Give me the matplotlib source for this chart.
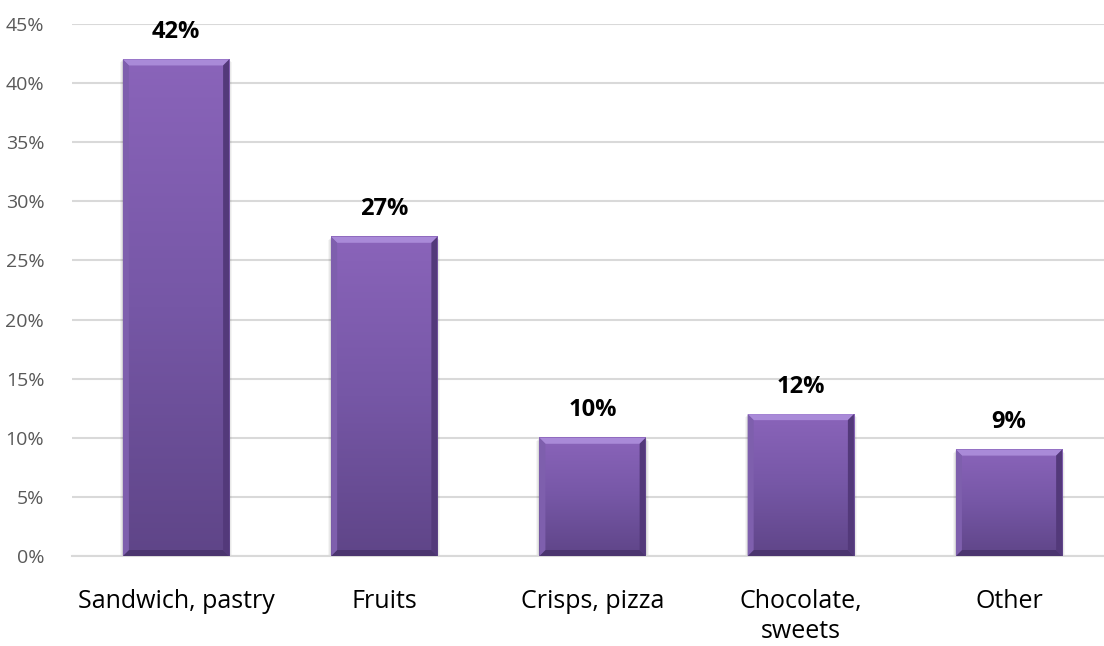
import numpy as np
import matplotlib.pyplot as plt
from matplotlib.patches import Polygon, Rectangle
from matplotlib.colors import LinearSegmentedColormap
from matplotlib.ticker import FuncFormatter, MultipleLocator

plt.rcParams["font.family"] = ["Open Sans", "DejaVu Sans"]

categories = ["Sandwich, pastry", "Fruits", "Crisps, pizza", "Chocolate,\nsweets", "Other"]
shares = [42, 27, 10, 12, 9]

fig = plt.figure(figsize=(11.04, 6.46), dpi=100)
ax = fig.add_axes([72 / 1104, 90 / 646, 1 - 72 / 1104, 532 / 646])

x = np.arange(len(categories))
width = 0.51
ax.set_xlim(-0.4994, 4.456)
ax.set_ylim(0, 45)

# pixel size in data units, for the bevel
px_x = (ax.get_xlim()[1] - ax.get_xlim()[0]) / 1032
px_y = 45 / 532
bx, by = 6 * px_x, 6 * px_y

body = LinearSegmentedColormap.from_list("body", ["#5f4588", "#7657a6", "#8a64ba"])
grad = np.linspace(0, 1, 256).reshape(-1, 1)

for xi, v in zip(x, shares):
    l, r = xi - width / 2, xi + width / 2
    # soft shadow, mostly below and to the sides
    for k, a in [(3, 0.05), (2, 0.07), (1, 0.09)]:
        ax.add_patch(Rectangle((l - k * px_x, -k * px_y), width + 2 * k * px_x, v,
                               color="#404040", alpha=a, lw=0, zorder=2))
    ax.imshow(grad, cmap=body, aspect="auto", origin="lower",
              extent=(l, r, 0, v), zorder=3, interpolation="bilinear")
    # bevel faces
    ax.add_patch(Polygon([(l, v), (r, v), (r - bx, v - by), (l + bx, v - by)],
                         color="#a98ad8", lw=0, zorder=4))
    ax.add_patch(Polygon([(l, 0), (r, 0), (r - bx, by), (l + bx, by)],
                         color="#4b356f", lw=0, zorder=4))
    ax.add_patch(Polygon([(l, 0), (l, v), (l + bx, v - by), (l + bx, by)],
                         color="#7e5fad", lw=0, zorder=4))
    ax.add_patch(Polygon([(r, 0), (r, v), (r - bx, v - by), (r - bx, by)],
                         color="#53397a", lw=0, zorder=4))
    ax.text(xi, v + 1.3, f"{v}%", ha="center", va="bottom",
            fontsize=17, fontweight="bold", color="black", zorder=5)

ax.yaxis.set_major_locator(MultipleLocator(5))
ax.yaxis.set_major_formatter(FuncFormatter(lambda val, _: f"{val:.0f}%"))
ax.grid(axis="y", color="#d9d9d9", lw=1.5, zorder=0)
ax.set_axisbelow(True)
for s in ["top", "right", "left"]:
    ax.spines[s].set_visible(False)
ax.spines["bottom"].set_color("#d9d9d9")
ax.spines["bottom"].set_linewidth(1.5)

ax.set_xticks(x)
ax.set_xticklabels(categories, fontsize=18, color="black", linespacing=1.25)
ax.tick_params(axis="x", length=0, pad=24)
ax.tick_params(axis="y", length=0, labelsize=14, labelcolor="#595959", pad=20)

fig.savefig("out.png", dpi=100)
